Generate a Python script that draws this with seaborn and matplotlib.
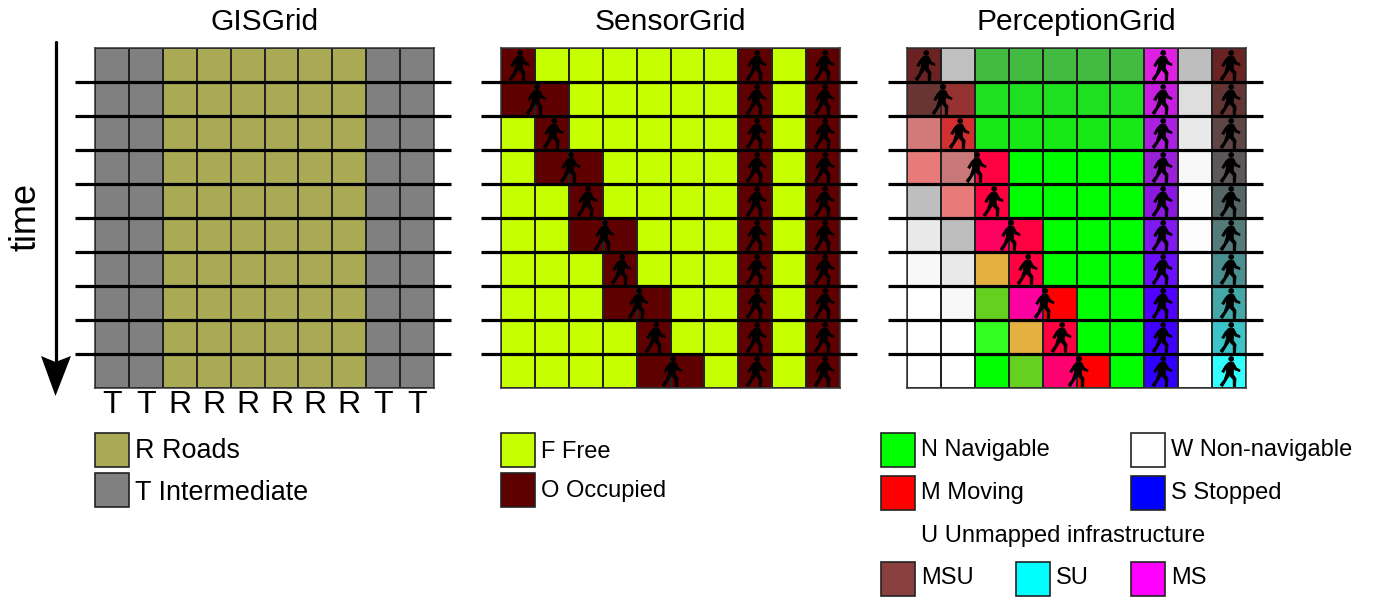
import numpy as np
import matplotlib
matplotlib.use('Agg')
import matplotlib.pyplot as plt
from matplotlib.colors import ListedColormap
from matplotlib.patches import Polygon, Rectangle
from matplotlib.path import Path
import seaborn as sns

#%% data

gis_labels = ['T', 'T', 'R', 'R', 'R', 'R', 'R', 'R', 'T', 'T']
gis_rows = ['TTRRRRRRTT'] * 10
gis_colors = {'R': '#aaaa55', 'T': '#808080'}

sensor_rows = ['OFFFFFFOFO',
               'OOFFFFFOFO',
               'FOFFFFFOFO',
               'FOOFFFFOFO',
               'FFOFFFFOFO',
               'FFOOFFFOFO',
               'FFFOFFFOFO',
               'FFFOOFFOFO',
               'FFFFOFFOFO',
               'FFFFOOFOFO']
sensor_colors = {'F': '#c6ff00', 'O': '#5f0000'}

perception_rows = [
    ['#6b2222', '#c0c0c0', '#43bb43', '#43bb43', '#43bb43', '#43bb43', '#43bb43', '#e020e0', '#bebebe', '#6b2222'],
    ['#683434', '#963232', '#1fe01f', '#1fe01f', '#1fe01f', '#1fe01f', '#1fe01f', '#c61fe0', '#dedede', '#633434'],
    ['#d27a7a', '#d23030', '#17e917', '#17e917', '#17e917', '#17e917', '#17e917', '#aa20df', '#e9e9e9', '#5f4646'],
    ['#e87a7a', '#c87878', '#ff0040', '#00ff00', '#00ff00', '#00ff00', '#00ff00', '#9a20d8', '#f8f8f8', '#5c5858'],
    ['#bebebe', '#e87a7a', '#ff0040', '#00ff00', '#00ff00', '#00ff00', '#00ff00', '#8a18e0', '#fcfcfc', '#566666'],
    ['#e9e9e9', '#bebebe', '#ff0060', '#ff0040', '#00ff00', '#00ff00', '#00ff00', '#8018f0', '#fcfcfc', '#557a7a'],
    ['#f8f8f8', '#e9e9e9', '#e4b040', '#ff0040', '#00ff00', '#00ff00', '#00ff00', '#6a10ff', '#ffffff', '#4a9090'],
    ['#ffffff', '#f8f8f8', '#66d020', '#ff00a0', '#ff0000', '#00ff00', '#00ff00', '#5000ff', '#ffffff', '#44a8a8'],
    ['#ffffff', '#ffffff', '#33ff20', '#e4b040', '#ff0040', '#00ff00', '#00ff00', '#4000ff', '#ffffff', '#3cc4c8'],
    ['#ffffff', '#ffffff', '#00ff00', '#66d020', '#ff0070', '#ff0000', '#00ff00', '#3000ff', '#ffffff', '#33ffff'],
]

# pedestrian columns for each time step, plus the two that stand still
walker_cols = [0.5, 1.0, 1.5, 2.0, 2.5, 3.0, 3.5, 4.0, 4.5, 5.0]
standing_cols = [7.5, 9.5]

titles = ['GISGrid', 'SensorGrid', 'PerceptionGrid']

gis_legend = ['R Roads', 'T Intermediate']
gis_legend_colors = ['#aaaa55', '#808080']
sensor_legend = ['F Free', 'O Occupied']
sensor_legend_colors = ['#c6ff00', '#5f0000']
perception_legend = ['N Navigable', 'W Non-navigable', 'M Moving', 'S Stopped', 'MSU', 'SU', 'MS']
perception_legend_colors = ['#00ff00', '#ffffff', '#ff0000', '#0000ff', '#8b4040', '#00ffff', '#ff00ff']

#%% setup

sns.set_theme(style='white')
plt.rcParams['font.family'] = ['Liberation Sans', 'DejaVu Sans']

W, H = 1380, 601
fig = plt.figure(figsize=(W / 100, H / 100), dpi=100)

# walking person marker, outline traced in pixels around the cell centre
body = np.array([[-1, 9], [4, 9], [7, 3.5], [10.5, 1.5], [10.2, 0], [5.5, 1.5], [4, 4], [3.7, -3],
                 [6.5, -7], [6, -15], [3.7, -15], [3.7, -8], [0, -4], [-3.3, -9], [-7, -15], [-9.3, -13.3],
                 [-5.3, -8], [-3.3, -2], [-2.7, 4], [-5.7, -1], [-7.7, 0], [-4, 6], [-1, 9]])
head = Path.circle((1.7, 12.5), 2.4)
walker = Path.make_compound_path(Path(body, closed=True), head)


def draw_grid(left, right_line, left_line, codes, palette, title, labels=False, people=False):
    ax = fig.add_axes([left / W, 1 - 388 / H, 339 / W, 340 / H])
    sns.heatmap(codes, ax=ax, cmap=ListedColormap(palette), vmin=-0.5, vmax=len(palette) - 0.5,
                cbar=False, linewidths=1.1, linecolor='#222222',
                xticklabels=gis_labels if labels else False, yticklabels=False)
    for s in ax.spines.values():
        s.set_visible(True)
        s.set_color('#333333')
        s.set_linewidth(1.1)
    ax.tick_params(axis='x', length=0, labelsize=23, pad=1.5, labelrotation=0, colors='black')
    ax.set_title(title, fontsize=21.6, pad=13, color='black')
    ax.hlines(np.arange(1, 10), (left_line - left) / 34, (right_line - left) / 34,
              color='black', linewidth=2.3, clip_on=False, zorder=3)
    if people:
        xs = walker_cols + [c for c in standing_cols for _ in walker_cols]
        ys = [r + 0.5 for r in range(10)] * 3
        sns.scatterplot(x=xs, y=ys, ax=ax, marker=walker, s=470, color='black', edgecolor='black',
                        linewidth=0.6, zorder=4, clip_on=False, legend=False)
        ax.set_xlim(0, 10)
        ax.set_ylim(10, 0)
    return ax


def to_codes(rows, palette):
    return np.array([[palette.index(c) for c in row] for row in rows])


gis_pal = list(gis_colors)
gis_codes = to_codes(gis_rows, gis_pal)
draw_grid(95, 452, 75, gis_codes, [gis_colors[k] for k in gis_pal], titles[0], labels=True)

sensor_pal = list(sensor_colors)
sensor_codes = to_codes(sensor_rows, sensor_pal)
draw_grid(501, 858, 481, sensor_codes, [sensor_colors[k] for k in sensor_pal], titles[1], people=True)

perception_pal = sorted({c for row in perception_rows for c in row})
perception_codes = to_codes(perception_rows, perception_pal)
draw_grid(907, 1264, 888, perception_codes, perception_pal, titles[2], people=True)

#%% overlay in pixel coordinates: arrow, time label and legends

ov = fig.add_axes([0, 0, 1, 1], zorder=-1)
ov.set_xlim(0, W)
ov.set_ylim(H, 0)
ov.axis('off')

ov.plot([55.5, 55.5], [42, 362], color='black', linewidth=2.3)
ov.add_patch(Polygon([[41, 356], [55.5, 362], [71, 356], [55.5, 396]], closed=True, color='black', linewidth=0))
ov.text(26, 217, 'time', rotation=90, fontsize=26, ha='center', va='center', color='black')


def swatch(x, y, color, label, size, baseline):
    ov.add_patch(Rectangle((x, y), 34, 34, facecolor=color, edgecolor='#222222', linewidth=1.2))
    ov.text(x + 40, baseline, label, fontsize=size, ha='left', va='baseline', color='black')


swatch(95, 433, gis_legend_colors[0], gis_legend[0], 19.4, 458)
swatch(95, 473, gis_legend_colors[1], gis_legend[1], 19.4, 500)
swatch(501, 433, sensor_legend_colors[0], sensor_legend[0], 17, 458)
swatch(501, 473, sensor_legend_colors[1], sensor_legend[1], 17, 497)

px = [881, 1131, 881, 1131, 881, 1016, 1131]
py = [433, 433, 476, 476, 562, 562, 562]
bl = [456, 456, 499, 499, 584, 584, 584]
for x, y, c, t, b in zip(px, py, perception_legend_colors, perception_legend, bl):
    swatch(x, y, c, t, 17, b)
ov.text(921, 542, 'U Unmapped infrastructure', fontsize=17, ha='left', va='baseline', color='black')

fig.savefig('out.png', dpi=100)
